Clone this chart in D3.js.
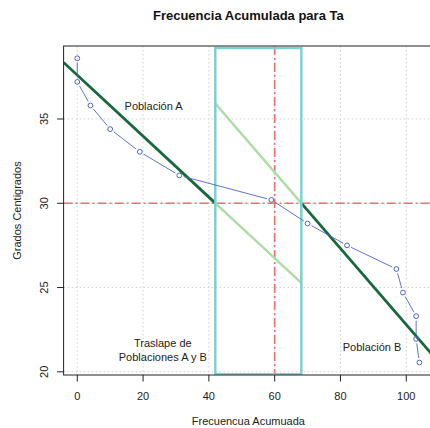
<!DOCTYPE html>
<html><head><meta charset="utf-8">
<script src="https://cdn.jsdelivr.net/npm/d3@7"></script>
<style>body{margin:0;background:#fff}svg{display:block;font-family:"Liberation Sans",Arial,sans-serif}</style>
</head><body>
<script>
const freqAcum = [0,0,4,10,19,31,59,70,82,97,99,103,103,104];
const grados   = [38.6,37.2,35.8,34.4,33.05,31.65,30.2,28.8,27.5,26.1,24.7,23.3,21.95,20.55];
const xTicks = [0,20,40,60,80,100];
const yTicks = [20,25,30,35];
const lineA = {intercept: 37.6, slope: -0.181};
const lineB = {intercept: 45.4, slope: -0.226};
const overlap = [41.95, 68.1];
const refX = 60, refY = 30;
const labels = [
  {text:["Población A"], x:23.2, y:35.75},
  {text:["Traslape de","Poblaciones A y B"], x:26, y:21.3},
  {text:["Población B"], x:89.6, y:21.45}
];
const W=430,H=428;
const L=63.6,R=433.1,T=46,B=375;
const x=d3.scaleLinear().domain([-4.16,108.16]).range([L,R]);
const y=d3.scaleLinear().domain([19.81,39.33]).range([B,T]);
const svg=d3.select("body").append("svg").attr("width",W).attr("height",H);
svg.append("defs").append("clipPath").attr("id","c").append("rect")
  .attr("x",L).attr("y",T).attr("width",R-L).attr("height",B-T);
const g=svg.append("g").attr("clip-path","url(#c)");
// grid
g.selectAll(".gx").data(xTicks).join("line").attr("x1",d=>x(d)).attr("x2",d=>x(d))
  .attr("y1",T).attr("y2",B).attr("stroke","#d0d0d0").attr("stroke-dasharray","1.5,2.5");
g.selectAll(".gy").data(yTicks).join("line").attr("y1",d=>y(d)).attr("y2",d=>y(d))
  .attr("x1",L).attr("x2",R).attr("stroke","#d0d0d0").attr("stroke-dasharray","1.5,2.5");
// red reference lines
const red="#f46c6c", dash="9,3,2,3";
g.append("line").attr("x1",L).attr("x2",R).attr("y1",y(refY)).attr("y2",y(refY))
  .attr("stroke",red).attr("stroke-width",1.6).attr("stroke-dasharray",dash);
g.append("line").attr("x1",x(refX)).attr("x2",x(refX)).attr("y1",T).attr("y2",B)
  .attr("stroke",red).attr("stroke-width",1.6).attr("stroke-dasharray",dash);
// regression lines
const f=(l,v)=>l.intercept+l.slope*v;
const xd=x.domain();
const dark="#17683a", light="#addca5";
const segs=[
  {l:lineA,a:xd[0],b:overlap[0],c:dark,w:2.8},
  {l:lineA,a:overlap[0],b:overlap[1],c:light,w:2.4},
  {l:lineB,a:overlap[0],b:overlap[1],c:light,w:2.4},
  {l:lineB,a:overlap[1],b:xd[1],c:dark,w:2.8}
];
g.selectAll(".seg").data(segs).join("line")
  .attr("x1",d=>x(d.a)).attr("y1",d=>y(f(d.l,d.a)))
  .attr("x2",d=>x(d.b)).attr("y2",d=>y(f(d.l,d.b)))
  .attr("stroke",d=>d.c).attr("stroke-width",d=>d.w);
// overlap rectangle
g.append("rect").attr("x",x(overlap[0])).attr("y",y(39.21))
  .attr("width",x(overlap[1])-x(overlap[0])).attr("height",y(19.85)-y(39.21))
  .attr("fill","none").attr("stroke","#7dd0d3").attr("stroke-width",2.5);
// blue type "b"
const pts=freqAcum.map((v,i)=>[x(v),y(grados[i])]);
const gap=4.5, blue="#4b63c6";
for(let i=0;i<pts.length-1;i++){
  const [x1,y1]=pts[i],[x2,y2]=pts[i+1];
  const dx=x2-x1,dy=y2-y1,len=Math.hypot(dx,dy);
  if(len<=2*gap) continue;
  const ux=dx/len,uy=dy/len;
  g.append("line").attr("x1",x1+ux*gap).attr("y1",y1+uy*gap)
    .attr("x2",x2-ux*gap).attr("y2",y2-uy*gap).attr("stroke",blue).attr("stroke-width",0.9);
}
g.selectAll(".pt").data(pts).join("circle").attr("cx",d=>d[0]).attr("cy",d=>d[1])
  .attr("r",2.4).attr("fill","none").attr("stroke",blue).attr("stroke-width",1);
// labels
labels.forEach(lb=>{
  const t=svg.append("text").attr("x",x(lb.x)).attr("y",y(lb.y)).attr("text-anchor","middle")
    .attr("font-size",11).attr("fill","#222");
  const n=lb.text.length;
  lb.text.forEach((s,i)=>t.append("tspan").attr("x",x(lb.x)).attr("y",y(lb.y)+(i-(n-1)/2)*14+4).text(s));
});
// box
svg.append("rect").attr("x",L).attr("y",T).attr("width",R-L).attr("height",B-T)
  .attr("fill","none").attr("stroke","#222").attr("stroke-width",1);
// axes
const ax=svg.append("g").attr("fill","#222").attr("font-size",11);
xTicks.forEach(v=>{
  ax.append("line").attr("x1",x(v)).attr("x2",x(v)).attr("y1",B).attr("y2",B+6.5).attr("stroke","#222");
  ax.append("text").attr("x",x(v)).attr("y",B+24.5).attr("text-anchor","middle").text(v);
});
yTicks.forEach(v=>{
  ax.append("line").attr("y1",y(v)).attr("y2",y(v)).attr("x1",L).attr("x2",L-6.5).attr("stroke","#222");
  ax.append("text").attr("transform",`translate(${L-16},${y(v)}) rotate(-90)`).attr("text-anchor","middle").text(v);
});
svg.append("text").attr("x",(L+R)/2).attr("y",20).attr("text-anchor","middle")
  .attr("font-size",13).attr("font-weight","bold").attr("fill","#111").text("Frecuencia Acumulada para Ta");
svg.append("text").attr("x",(L+R)/2).attr("y",425).attr("text-anchor","middle")
  .attr("font-size",11).attr("fill","#222").text("Frecuencua Acumuada");
svg.append("text").attr("transform",`translate(21,${(T+B)/2}) rotate(-90)`).attr("text-anchor","middle")
  .attr("font-size",11).attr("fill","#222").text("Grados Centigrados");
</script>
</body></html>
